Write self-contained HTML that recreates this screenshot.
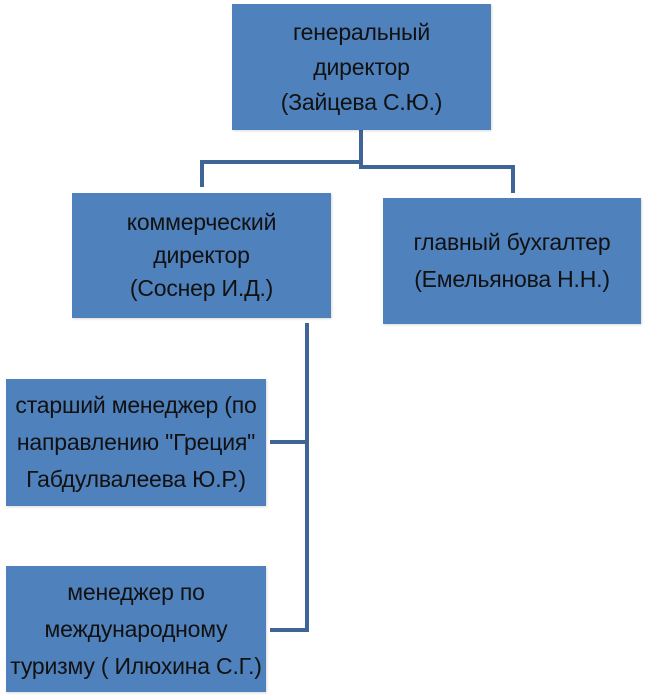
<!DOCTYPE html>
<html><head><meta charset="utf-8"><style>
body{margin:0;width:649px;height:696px;background:#fff;position:relative;overflow:hidden;font-family:"Liberation Sans",sans-serif;}
.b{position:absolute;background:#4f81bd;color:#111;font-size:23px;text-align:center;display:flex;flex-direction:column;justify-content:center;line-height:37px;white-space:nowrap;box-shadow:1px 1px 2px rgba(0,0,0,0.15);letter-spacing:-0.2px;}
.l{position:absolute;background:#3f6597;}
</style></head><body>
<div class="l" style="left:359px;top:130px;width:4px;height:38px"></div>
<div class="l" style="left:200px;top:160px;width:163px;height:4px"></div>
<div class="l" style="left:200px;top:160px;width:4px;height:27px"></div>
<div class="l" style="left:359px;top:165px;width:156px;height:4px"></div>
<div class="l" style="left:511px;top:165px;width:4px;height:28px"></div>
<div class="l" style="left:305px;top:323px;width:4px;height:309px"></div>
<div class="l" style="left:270px;top:440px;width:39px;height:4px"></div>
<div class="l" style="left:270px;top:628px;width:39px;height:4px"></div>

<div class="b" style="left:232px;top:4px;width:259px;height:126px;line-height:35px"><div>генеральный</div><div>директор<br><span style="line-height:28px">(Зайцева С.Ю.)</span></div></div>
<div class="b" style="left:72px;top:193px;width:259px;height:125px;line-height:33px"><div>коммерческий<br>директор<br>(Соснер И.Д.)</div></div>
<div class="b" style="left:383px;top:198px;width:258px;height:126px"><div>главный бухгалтер<br>(Емельянова Н.Н.)</div></div>
<div class="b" style="left:6px;top:379px;width:260px;height:127px"><div>старший менеджер (по<br>направлению "Греция"<br>Габдулвалеева Ю.Р.)</div></div>
<div class="b" style="left:6px;top:566px;width:260px;height:126px"><div>менеджер по<br>международному<br>туризму ( Илюхина С.Г.)</div></div>
</body></html>
